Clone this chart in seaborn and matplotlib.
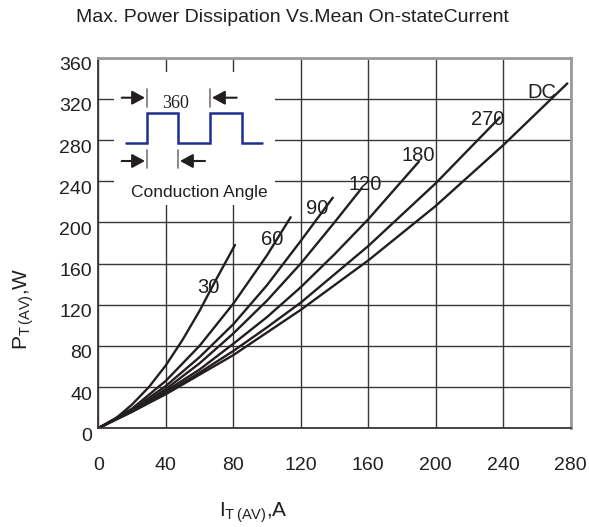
import matplotlib
matplotlib.use("Agg")
import matplotlib.pyplot as plt
from matplotlib.transforms import ScaledTranslation
import pandas as pd
import seaborn as sns

# ---- data -----------------------------------------------------------------
title = "Max. Power Dissipation Vs.Mean On-stateCurrent"
x_ticks = [0, 40, 80, 120, 160, 200, 240, 280]
y_ticks = [0, 40, 80, 120, 160, 200, 240, 280, 320, 360]

curve_names = ["30", "60", "90", "120", "180", "270", "DC"]

cur_30 = [0, 10, 20, 30, 40, 50, 60, 70, 81]
pow_30 = [0, 9, 23, 40, 61, 86, 114, 145, 178]

cur_60 = [0, 20, 40, 60, 80, 100, 114]
pow_60 = [0, 19, 46, 80, 121, 168, 205]

cur_90 = [0, 20, 40, 60, 80, 100, 120, 139]
pow_90 = [0, 18, 41, 69, 101, 139, 182, 224]

cur_120 = [0, 20, 40, 60, 80, 100, 120, 140, 156]
pow_120 = [0, 17, 38, 63, 92, 124, 160, 200, 233]

cur_180 = [0, 20, 40, 60, 80, 100, 120, 140, 160, 190]
pow_180 = [0, 17, 36, 57, 82, 108, 137, 169, 203, 259]

cur_270 = [0, 20, 40, 60, 80, 100, 120, 160, 200, 238]
pow_270 = [0, 16, 34, 54, 75, 98, 122, 177, 238, 302]

cur_dc = [0, 20, 40, 60, 80, 120, 160, 200, 240, 278]
pow_dc = [0, 16, 33, 52, 71, 115, 163, 216, 275, 335]

currents = [cur_30, cur_60, cur_90, cur_120, cur_180, cur_270, cur_dc]
powers = [pow_30, pow_60, pow_90, pow_120, pow_180, pow_270, pow_dc]

frames = []
for name, cur, pw in zip(curve_names, currents, powers):
    frames.append(pd.DataFrame({"I": cur, "P": pw, "angle": name}))
df = pd.concat(frames, ignore_index=True)

# ---- style ----------------------------------------------------------------
sns.set_style("white")
plt.rcParams["font.family"] = ["Liberation Sans", "DejaVu Sans"]
plt.rcParams["mathtext.fontset"] = "custom"
plt.rcParams["mathtext.rm"] = "Liberation Sans"
ink = "#231f20"

fig = plt.figure(figsize=(5.89, 5.27), dpi=100)
W, H = 589, 527
ax = fig.add_axes([98.3 / W, 1 - 428.2 / H, (570.7 - 98.3) / W, (428.2 - 57.7) / H])

# curves
for name in curve_names:
    sub = df[df["angle"] == name]
    sns.lineplot(data=sub, x="I", y="P", ax=ax, color=ink, lw=1.7,
                 sort=False, estimator=None, legend=False)

ax.set_xlim(0, 280)
ax.set_ylim(0, 360)
ax.set_xticks(x_ticks)
ax.set_yticks(y_ticks)
ax.set_xticklabels([str(v) for v in x_ticks])
ax.set_yticklabels([str(v) for v in y_ticks])
ax.set_xlabel("")
ax.set_ylabel("")
ax.grid(True, color="#3a3536", lw=1.0)
ax.set_axisbelow(True)
ax.tick_params(axis="both", length=0, labelsize=14, labelcolor=ink)
ax.tick_params(axis="x", pad=21)
ax.tick_params(axis="y", pad=4.5)
for lab in ax.get_yticklabels():
    lab.set_transform(lab.get_transform()
                      + ScaledTranslation(0, -6 / 100, fig.dpi_scale_trans))

for side in ("left", "bottom"):
    ax.spines[side].set_color("#3a3536")
    ax.spines[side].set_linewidth(1.3)
for side in ("top", "right"):
    ax.spines[side].set_color("#9a9a9a")
    ax.spines[side].set_linewidth(2.0)

# curve labels
label_pos = {"30": (65, 137), "60": (103, 183), "90": (130, 213),
             "120": (158, 237), "180": (189.5, 265), "270": (231, 299.5),
             "DC": (263, 326)}
for name in curve_names:
    x, y = label_pos[name]
    ax.text(x, y, name, fontsize=14.5, color=ink, ha="center", va="center")

# titles and axis labels
fig.text(292 / W, 1 - 18 / H, title, fontsize=14, color=ink,
         ha="center", va="center")
fig.text(253 / W, 1 - 513 / H, r"$\mathregular{I_{T\,(AV)}{,}A}$", fontsize=15,
         color=ink, ha="center", va="center")
fig.text(24 / W, 1 - 309 / H, r"$\mathregular{P_{T\,(AV)}{,}W}$", fontsize=15,
         color=ink, ha="center", va="center", rotation=90)

# conduction-angle inset
ins = fig.add_axes([114 / W, 1 - 205 / H, 161 / W, 133 / H])
ins.set_facecolor("white")
ins.set_xlim(0, 161)
ins.set_ylim(133, 0)
ins.set_xticks([])
ins.set_yticks([])
for s in ins.spines.values():
    s.set_visible(False)

wave_x = [12, 32.7, 32.7, 64.3, 64.3, 96, 96, 127.7, 127.7, 147.7]
wave_y = [71.3, 71.3, 40.7, 40.7, 71.3, 71.3, 40.7, 40.7, 71.3, 71.3]
ins.plot(wave_x, wave_y, color="#1f2f8f", lw=1.8, solid_joinstyle="miter")

for xm in (32.7, 96):
    ins.plot([xm, xm], [17, 35], color="#777777", lw=1.2)
for xm in (32.7, 64.3):
    ins.plot([xm, xm], [78, 96], color="#777777", lw=1.2)

arrow = dict(arrowstyle="-|>,head_length=0.55,head_width=0.3", color=ink,
             lw=1.5, shrinkA=0, shrinkB=0, mutation_scale=14)
ins.annotate("", xy=(31, 25.7), xytext=(7.7, 25.7), arrowprops=arrow)
ins.annotate("", xy=(98, 25.7), xytext=(122.7, 25.7), arrowprops=arrow)
ins.annotate("", xy=(31, 89), xytext=(7.7, 89), arrowprops=arrow)
ins.annotate("", xy=(66, 89), xytext=(91, 89), arrowprops=arrow)

ins.text(62, 31.3, "360", fontsize=13, family=["Liberation Serif"], color=ink,
         ha="center", va="center")
ins.text(85.3, 120.7, "Conduction Angle", fontsize=12.5, color=ink,
         ha="center", va="center")

fig.savefig("out.png", dpi=100)
